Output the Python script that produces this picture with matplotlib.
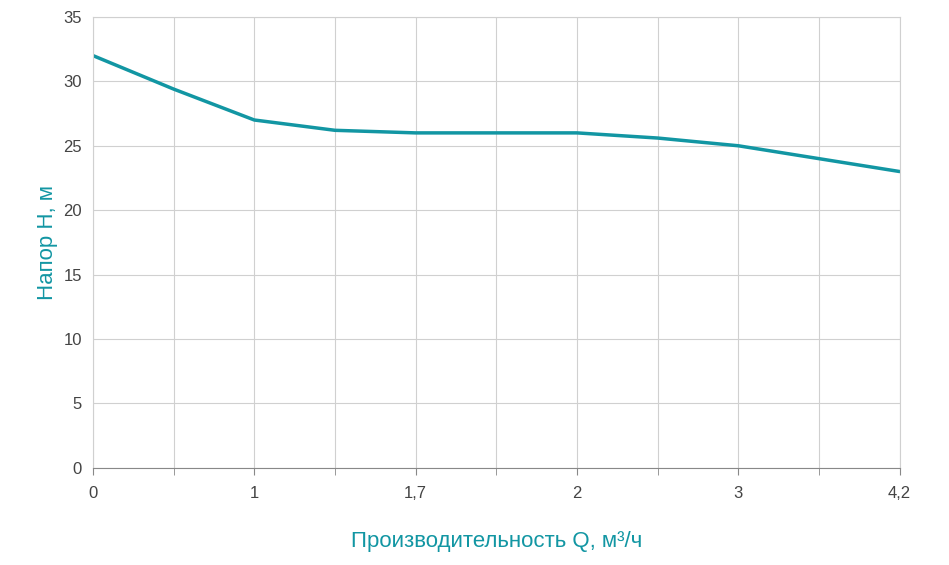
import matplotlib
matplotlib.use('Agg')
import matplotlib.pyplot as plt
import numpy as np

# данные кривой (позиции сетки 0..10)
x_pos = list(range(11))
head = [32, 29.4, 27.0, 26.2, 26.0, 26.0, 26.0, 25.6, 25.0, 24.0, 23.0]
tick_pos = [0, 2, 4, 6, 8, 10]
tick_labels = ['0', '1', '1,7', '2', '3', '4,2']

plt.rcParams['font.family'] = ['Liberation Sans', 'DejaVu Sans']
teal = '#1296a3'

fig = plt.figure(figsize=(9.49, 5.65), dpi=100)
ax = fig.add_axes([0.098, 0.172, 0.85, 0.798])

ax.plot(x_pos, head, color=teal, linewidth=2.5, solid_capstyle='round', solid_joinstyle='round')

ax.set_xlim(0, 10)
ax.set_ylim(0, 35)
ax.set_xticks(x_pos, minor=True)
ax.set_xticks(tick_pos)
ax.set_xticklabels(tick_labels)
ax.set_yticks(range(0, 36, 5))
ax.grid(True, which='both', axis='x', color='#d0d0d0', linewidth=0.8)
ax.grid(True, axis='y', color='#d0d0d0', linewidth=0.8)
ax.tick_params(axis='x', which='both', direction='out', length=5, color='#888888', labelsize=12, labelcolor='#444444', pad=8)
ax.tick_params(axis='y', length=0, labelsize=12, labelcolor='#444444', pad=8)
for s in ['top', 'right']:
    ax.spines[s].set_color('#d0d0d0')
ax.spines['left'].set_color('#d0d0d0')
ax.spines['bottom'].set_color('#888888')

ax.set_ylabel('Напор H, м', color=teal, fontsize=16, labelpad=4)
ax.set_xlabel('Производительность Q, м³/ч', color=teal, fontsize=16, labelpad=22)

fig.savefig('out.png', dpi=100)
